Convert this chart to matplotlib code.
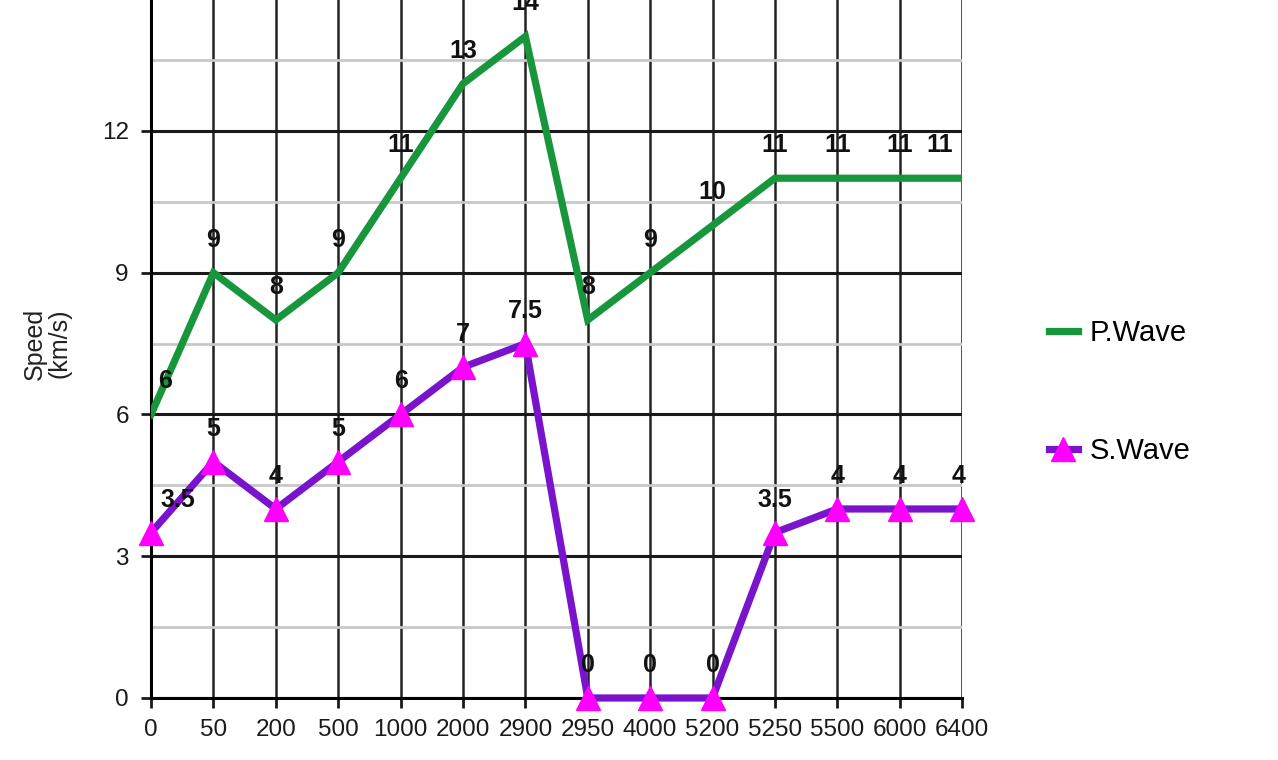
import matplotlib.pyplot as plt
import numpy as np

plt.rcParams["font.family"] = ["Liberation Sans", "DejaVu Sans"]

GREEN = "#17963B"
PURPLE = "#7A14CC"
MAGENTA = "#FF00FF"

depths = ["0", "50", "200", "500", "1000", "2000", "2900", "2950",
          "4000", "5200", "5250", "5500", "6000", "6400"]
p_wave = [6, 9, 8, 9, 11, 13, 14, 8, 9, 10, 11, 11, 11, 11]
s_wave = [3.5, 5, 4, 5, 6, 7, 7.5, 0, 0, 0, 3.5, 4, 4, 4]
p_text = ["6", "9", "8", "9", "11", "13", "14", "8", "9", "10", "11", "11", "11", "11"]
s_text = ["3.5", "5", "4", "5", "6", "7", "7.5", "0", "0", "0", "3.5", "4", "4", "4"]

fig = plt.figure(figsize=(12.78, 7.6), dpi=100)
ax = fig.add_axes([0.1182, 0.0816, 0.6346, 0.9326])

x = np.arange(len(depths))
ax.plot(x, p_wave, color=GREEN, lw=5.2, solid_joinstyle="miter", label="P.Wave", zorder=3)
ax.plot(x, s_wave, color=PURPLE, lw=5.2, marker="^", markersize=17,
        markerfacecolor=MAGENTA, markeredgecolor=MAGENTA, label="S.Wave", zorder=4,
        clip_on=False)

# data labels, nudged at the two ends like the original
def nudge(i, first, last):
    if i == 0:
        return first
    if i == len(depths) - 1:
        return last
    return 0

for i in range(len(depths)):
    ax.annotate(p_text[i], (x[i], p_wave[i]), xytext=(nudge(i, 14, -22), 33),
                textcoords="offset pixels", ha="center", va="center",
                fontsize=18, fontweight="bold", color="#111111", zorder=5,
                annotation_clip=False)
    ax.annotate(s_text[i], (x[i], s_wave[i]), xytext=(nudge(i, 27, -4), 33),
                textcoords="offset pixels", ha="center", va="center",
                fontsize=18, fontweight="bold", color="#111111", zorder=5,
                annotation_clip=False)

ax.set_xlim(0, len(depths) - 1)
ax.set_ylim(0, 15)
ax.set_xticks(x)
ax.set_xticklabels(depths)
ax.set_yticks(np.arange(0, 16, 3))
ax.set_yticks(np.arange(1.5, 15, 3), minor=True)

ax.grid(which="major", axis="y", color="#1a1a1a", lw=2.2)
ax.grid(which="minor", axis="y", color="#c8c8c8", lw=2.0)
ax.grid(which="major", axis="x", color="#222222", lw=1.8)
ax.set_axisbelow(True)

for s in ["top", "right"]:
    ax.spines[s].set_visible(False)
ax.spines["left"].set_linewidth(2.2)
ax.spines["bottom"].set_linewidth(2.2)
ax.tick_params(axis="both", which="major", length=7, width=2, direction="out",
               labelsize=17.5, colors="#1a1a1a", pad=8)
ax.tick_params(axis="y", which="minor", length=0)
ax.tick_params(axis="y", pad=9)

ax.set_ylabel("Speed\n(km/s)", fontsize=18, color="#222222", labelpad=22,
              linespacing=1.0)

fig.legend(loc="center left", bbox_to_anchor=(0.8, 0.484), frameon=False,
           fontsize=21, labelspacing=3.1, handlelength=1.0, handletextpad=0.4)

fig.savefig("out.png", dpi=100)
